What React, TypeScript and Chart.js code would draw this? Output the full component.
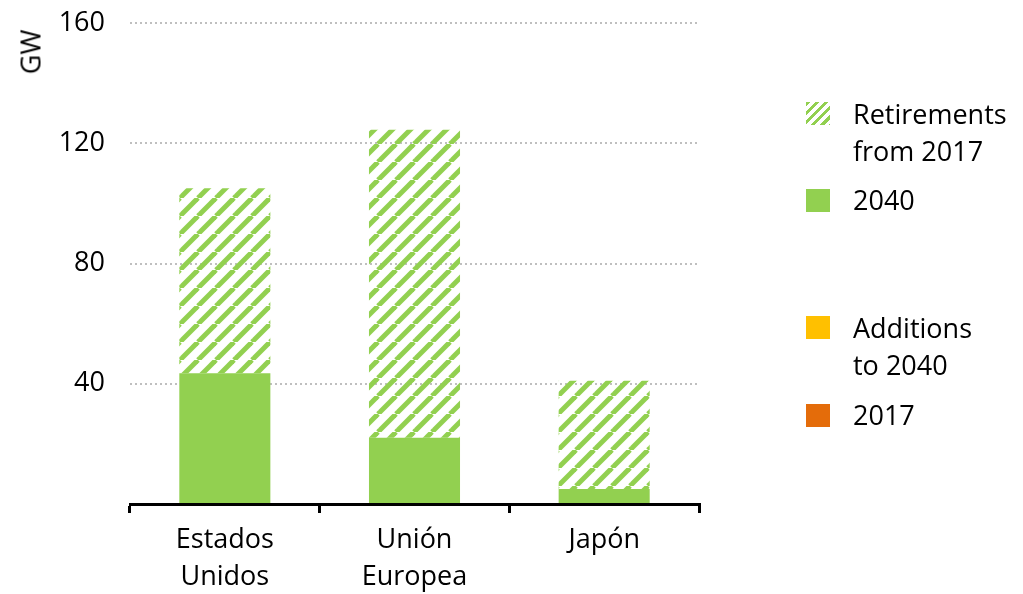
import React, { useEffect, useRef } from 'react';
import { Chart, registerables } from 'chart.js';

Chart.register(...registerables);

// ---- Data ----
const categories: string[][] = [['Estados', 'Unidos'], ['Unión', 'Europea'], ['Japón']];
const capacity2040: number[] = [43.5, 22, 5];
const retirementsFrom2017: number[] = [61.5, 102.5, 36];
const yTickValues: number[] = [0, 40, 80, 120, 160];

// ---- Styles ----
const GREEN = '#92D050';
const YELLOW = '#FFC000';
const ORANGE = '#E46C0A';
const FONT = "'Open Sans', sans-serif";
const FONT_SIZE = 27;

function makeHatch(): CanvasPattern | string {
  const size = 18;
  const c = document.createElement('canvas');
  c.width = size;
  c.height = size;
  const ctx = c.getContext('2d');
  if (!ctx) return GREEN;
  ctx.strokeStyle = GREEN;
  ctx.lineWidth = 5;
  for (let k = -1; k <= 1; k++) {
    ctx.beginPath();
    ctx.moveTo(k * size, size);
    ctx.lineTo(k * size + size, 0);
    ctx.stroke();
  }
  return ctx.createPattern(c, 'repeat') || GREEN;
}

const textStyle: React.CSSProperties = {
  position: 'absolute',
  fontFamily: FONT,
  fontSize: FONT_SIZE,
  lineHeight: '37px',
  color: '#000',
  whiteSpace: 'nowrap',
};

function Swatch({ top, bg }: { top: number; bg: string }) {
  return (
    <div
      style={{ position: 'absolute', left: 806, top, width: 24, height: 23, background: bg }}
    />
  );
}

export default function App() {
  const ref = useRef<HTMLCanvasElement | null>(null);

  useEffect(() => {
    if (!ref.current) return;
    const hatch = makeHatch();
    const chart = new Chart(ref.current, {
      type: 'bar',
      data: {
        labels: categories,
        datasets: [
          { label: '2040', data: capacity2040, backgroundColor: GREEN, stack: 's' },
          { label: 'Retirements from 2017', data: retirementsFrom2017, backgroundColor: hatch as any, stack: 's' },
        ],
      },
      options: {
        animation: false,
        responsive: false,
        maintainAspectRatio: false,
        layout: { padding: { top: 23, right: 324, left: 0, bottom: 0 } },
        plugins: { legend: { display: false }, tooltip: { enabled: false } },
        datasets: { bar: { categoryPercentage: 1, barPercentage: 0.48 } },
        scales: {
          x: {
            stacked: true,
            offset: true,
            grid: {
              display: true,
              drawOnChartArea: false,
              drawTicks: true,
              tickLength: 9,
              color: '#000',
              lineWidth: 3,
              offset: true,
            },
            border: { display: true, color: '#000', width: 3 },
            ticks: {
              font: { family: FONT, size: FONT_SIZE, lineHeight: 1.4 },
              color: '#000',
              padding: 8,
              maxRotation: 0,
              autoSkip: false,
            },
            afterFit: (s: any) => {
              s.height = 90;
            },
          },
          y: {
            stacked: true,
            min: 0,
            max: 160,
            afterBuildTicks: (s: any) => {
              s.ticks = yTickValues.map((v) => ({ value: v }));
            },
            grid: {
              drawTicks: false,
              lineWidth: 2,
              color: (c: any) => (c.tick && c.tick.value === 0 ? 'rgba(0,0,0,0)' : '#BFBFBF'),
            },
            border: { display: false, dash: [2, 3] },
            ticks: {
              font: { family: FONT, size: FONT_SIZE },
              color: '#000',
              padding: 25,
              callback: (v: any) => (Number(v) === 0 ? '' : String(v)),
            },
            afterFit: (s: any) => {
              s.width = 130;
              s.paddingTop = 0;
              s.paddingBottom = 0;
            },
          },
        },
      },
    });
    return () => chart.destroy();
  }, []);

  return (
    <div
      style={{
        position: 'fixed',
        left: 0,
        top: 0,
        width: 1023,
        height: 594,
        background: '#fff',
        overflow: 'hidden',
      }}
    >
      <canvas ref={ref} width={1023} height={594} style={{ display: 'block', width: 1023, height: 594 }} />
      <div
        style={{
          ...textStyle,
          left: 30,
          top: 52,
          transform: 'translate(-50%, -50%) rotate(-90deg)',
          lineHeight: 'normal',
        }}
      >
        GW
      </div>

      <Swatch
        top={102}
        bg={`repeating-linear-gradient(135deg, ${GREEN} 0px, ${GREEN} 3px, #fff 3px, #fff 6.5px)`}
      />
      <div style={{ ...textStyle, left: 853, top: 95 }}>
        Retirements
        <br />
        from 2017
      </div>

      <Swatch top={189} bg={GREEN} />
      <div style={{ ...textStyle, left: 853, top: 181 }}>2040</div>

      <Swatch top={316} bg={YELLOW} />
      <div style={{ ...textStyle, left: 853, top: 309 }}>
        Additions
        <br />
        to 2040
      </div>

      <Swatch top={404} bg={ORANGE} />
      <div style={{ ...textStyle, left: 853, top: 396 }}>2017</div>
    </div>
  );
}
